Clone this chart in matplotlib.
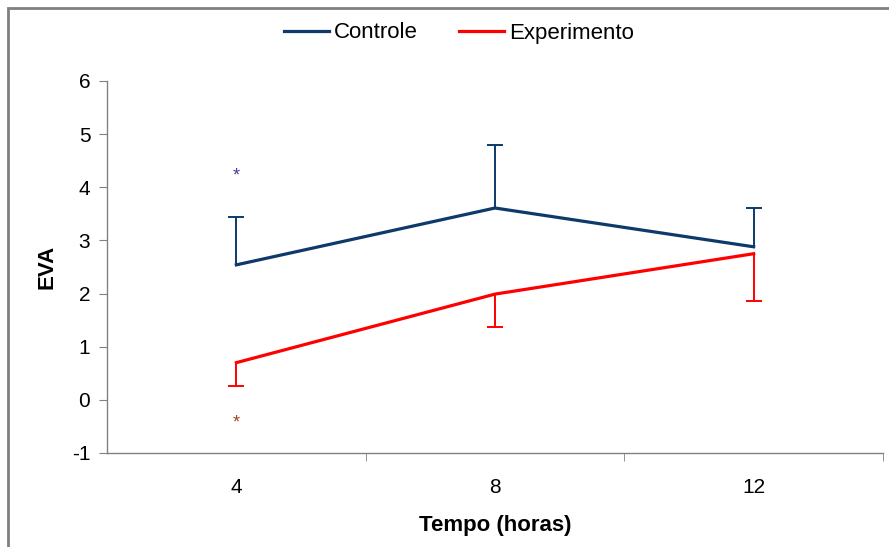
import matplotlib
matplotlib.use('Agg')
import matplotlib.pyplot as plt
from matplotlib.patches import Rectangle

plt.rcParams['font.family'] = ['Liberation Sans', 'DejaVu Sans']
plt.rcParams['axes.unicode_minus'] = False

# data
tempo = [4, 8, 12]
controle = [2.54, 3.61, 2.88]
controle_err = [0.90, 1.19, 0.73]      # upper only
experimento = [0.70, 1.99, 2.75]
experimento_err = [0.44, 0.62, 0.89]   # lower only
yticks = [-1, 0, 1, 2, 3, 4, 5, 6]
asterisco_y = [4.22, -0.44]

azul = '#0d3a6b'
vermelho = '#ff0000'

fig = plt.figure(figsize=(8.89, 5.47), dpi=100)
ax = fig.add_axes([107/889, 94/547, 776/889, 372/547])

ax.plot(tempo, controle, color=azul, lw=2.3, label='Controle', zorder=3)
ax.plot(tempo, experimento, color=vermelho, lw=2.3, label='Experimento', zorder=3)

# one-sided error bars
c_top = [v + e for v, e in zip(controle, controle_err)]
e_bot = [v - e for v, e in zip(experimento, experimento_err)]
ax.vlines(tempo, controle, c_top, color=azul, lw=1.4)
ax.plot(tempo, c_top, ls='none', marker='_', ms=12, mew=1.4, color=azul)
ax.vlines(tempo, e_bot, experimento, color=vermelho, lw=1.4)
ax.plot(tempo, e_bot, ls='none', marker='_', ms=12, mew=1.4, color=vermelho)

# asterisks
ax.text(tempo[0], asterisco_y[0], '*', color='#4040a0', ha='center', va='center', fontsize=13)
ax.text(tempo[0], asterisco_y[1], '*', color='#a0451a', ha='center', va='center', fontsize=13)

ax.set_xlim(2, 14)
ax.set_ylim(-1, 6)
ax.set_yticks(yticks)
ax.set_xticks(tempo)
ax.set_xticks([6, 10, 14], minor=True)
ax.tick_params(axis='x', which='major', length=0, pad=18, labelsize=15)
ax.tick_params(axis='x', which='minor', length=6, color='#808080', direction='out')
ax.tick_params(axis='y', length=6, color='#808080', direction='out', labelsize=15, pad=6)

for s in ['top', 'right']:
    ax.spines[s].set_visible(False)
for s in ['left', 'bottom']:
    ax.spines[s].set_color('#808080')
    ax.spines[s].set_linewidth(1.0)

ax.set_xlabel('Tempo (horas)', fontsize=16, fontweight='bold', labelpad=13)
ax.set_ylabel('EVA', fontsize=16, fontweight='bold', labelpad=10)

fig.legend(loc='center', bbox_to_anchor=(459/889, 1 - 33/547), ncol=2, frameon=False,
           fontsize=16, handlelength=2.0, handletextpad=0.25, columnspacing=1.85)

fig.patches.append(Rectangle((8/889, -0.02), 1.05, (547-8)/547 + 0.02, transform=fig.transFigure,
                             fill=False, edgecolor='#808080', lw=2))

fig.savefig('out.png', dpi=100)
